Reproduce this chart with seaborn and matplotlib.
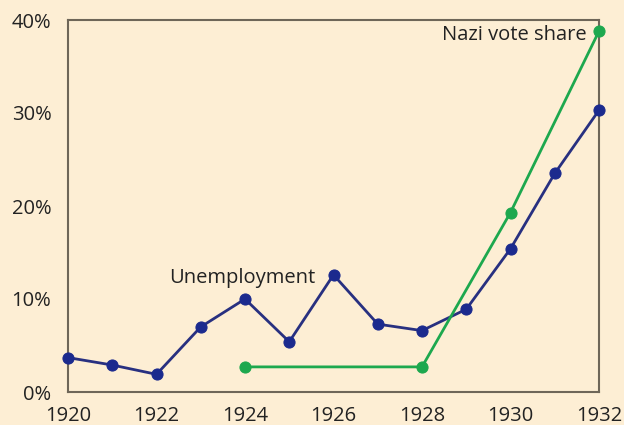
import matplotlib
matplotlib.use("Agg")
import matplotlib.pyplot as plt
import seaborn as sns
import pandas as pd
from matplotlib.ticker import FuncFormatter

unemp_years = [1920, 1921, 1922, 1923, 1924, 1925, 1926, 1927, 1928, 1929, 1930, 1931, 1932]
unemp_values = [3.7, 2.9, 1.9, 7.0, 10.0, 5.4, 12.6, 7.3, 6.6, 8.9, 15.4, 23.5, 30.3]
nazi_years = [1924, 1928, 1930, 1932]
nazi_values = [2.7, 2.7, 19.3, 38.8]
x_ticks = [1920, 1922, 1924, 1926, 1928, 1930, 1932]
y_ticks = [0, 10, 20, 30, 40]

bg = "#FDEED4"
blue_line = "#283080"
blue_mark = "#1B2A8E"
green = "#1DA84E"
spine_c = "#6E6658"
text_c = "#222222"

sns.set_style("white")
plt.rcParams["font.family"] = ["Open Sans", "DejaVu Sans"]

fig = plt.figure(figsize=(6.24, 4.25), dpi=100, facecolor=bg)
ax = fig.add_axes([68 / 624, 1 - 392 / 425, (599 - 68) / 624, (392 - 20) / 425])
ax.set_facecolor(bg)

df_u = pd.DataFrame({"year": unemp_years, "value": unemp_values})
df_n = pd.DataFrame({"year": nazi_years, "value": nazi_values})

sns.lineplot(data=df_u, x="year", y="value", ax=ax, color=blue_line, lw=2,
             marker="o", markersize=8, markerfacecolor=blue_mark,
             markeredgecolor=blue_mark, clip_on=False, zorder=3)
sns.lineplot(data=df_n, x="year", y="value", ax=ax, color=green, lw=2,
             marker="o", markersize=8, markerfacecolor=green,
             markeredgecolor=green, clip_on=False, zorder=3)

ax.set_xlim(1920, 1932)
ax.set_ylim(0, 40)
ax.set_xticks(x_ticks)
ax.set_yticks(y_ticks)
ax.yaxis.set_major_formatter(FuncFormatter(lambda v, p: f"{int(v)}%"))
ax.set_xlabel("")
ax.set_ylabel("")

for s in ax.spines.values():
    s.set_color(spine_c)
    s.set_linewidth(1.5)

ax.tick_params(axis="both", which="major", direction="out", length=6,
               width=1.5, color=spine_c, labelsize=14.5, labelcolor=text_c)
ax.tick_params(axis="x", pad=4)
ax.tick_params(axis="y", pad=6)

ax.text(1925.58, 12.3, "Unemployment", ha="right", va="center",
        fontsize=14.5, color=text_c)
ax.text(1931.72, 38.4, "Nazi vote share", ha="right", va="center",
        fontsize=14.5, color=text_c)

fig.savefig("out.png", dpi=100, facecolor=bg)
